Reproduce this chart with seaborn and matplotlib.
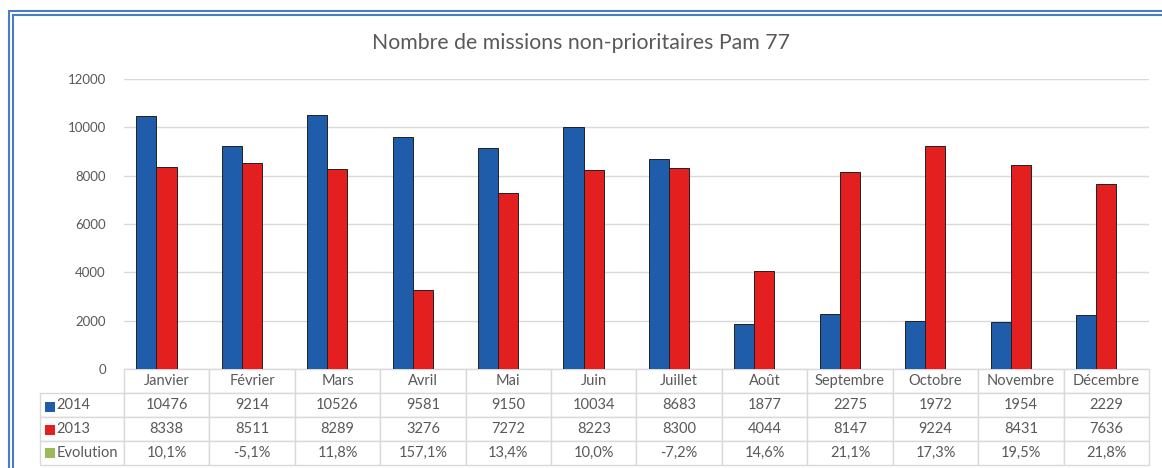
import matplotlib

matplotlib.use("Agg")
import matplotlib.pyplot as plt
from matplotlib.patches import Rectangle
import pandas as pd
import seaborn as sns

# donnees
MOIS = ["Janvier", "Février", "Mars", "Avril", "Mai", "Juin", "Juillet",
        "Août", "Septembre", "Octobre", "Novembre", "Décembre"]
V2014 = [10476, 9214, 10526, 9581, 9150, 10034, 8683, 1877, 2275, 1972, 1954, 2229]
V2013 = [8338, 8511, 8289, 3276, 7272, 8223, 8300, 4044, 8147, 9224, 8431, 7636]
EVOLUTION = ["10,1%", "-5,1%", "11,8%", "157,1%", "13,4%", "10,0%", "-7,2%",
             "14,6%", "21,1%", "17,3%", "19,5%", "21,8%"]
SERIES = ["2014", "2013"]
Y_TICKS = [0, 2000, 4000, 6000, 8000, 10000, 12000]

BLEU = "#1F5DAB"
ROUGE = "#E3201F"
VERT = "#9BBB59"
GRIS = "#595959"
TRAIT = "#D9D9D9"

sns.set_theme(style="white")
plt.rcParams["font.family"] = ["Lato", "DejaVu Sans"]

df = pd.DataFrame({
    "mois": MOIS * 2,
    "serie": [SERIES[0]] * len(MOIS) + [SERIES[1]] * len(MOIS),
    "valeur": V2014 + V2013,
})

W, H = 1162, 468
fig = plt.figure(figsize=(W / 100, H / 100), dpi=100)
ax = fig.add_axes([124 / W, 1 - 369 / H, 1025 / W, 290 / H])

sns.barplot(data=df, x="mois", y="valeur", hue="serie", order=MOIS,
            hue_order=SERIES, palette=[BLEU, ROUGE], width=0.47,
            saturation=1, edgecolor="#202020", linewidth=0.7,
            legend=False, ax=ax)

# paires decalees vers la gauche comme dans Excel (effet 3D)
ax.set_xlim(-0.38, 11.62)
ax.set_ylim(0, 12000)
ax.set_yticks(Y_TICKS)
ax.set_yticklabels([str(t) for t in Y_TICKS], color=GRIS, fontsize=9.5)
ax.tick_params(axis="y", length=0, pad=13)
ax.set_xticks([])
ax.set_xlabel("")
ax.set_ylabel("")
ax.yaxis.grid(True, color=TRAIT, lw=1)
ax.set_axisbelow(True)
for s in ax.spines.values():
    s.set_visible(False)

# tableau de donnees sous le graphique (1re colonne = etiquettes)
etiquettes = SERIES + ["Evolution"]
lignes = [[etiquettes[0]] + [str(v) for v in V2014],
          [etiquettes[1]] + [str(v) for v in V2013],
          [etiquettes[2]] + EVOLUTION]
larg_etiq = 84 / 1025
haut_tab = 96 / 290
tab = ax.table(cellText=lignes, colLabels=[""] + MOIS, cellLoc="center",
               colWidths=[larg_etiq] + [1 / 12] * 12,
               bbox=[-larg_etiq, -haut_tab, 1 + larg_etiq, haut_tab])
tab.auto_set_font_size(False)
tab.set_fontsize(10.5)
for (r, c), cell in tab.get_celld().items():
    cell.set_edgecolor(TRAIT)
    cell.set_linewidth(1)
    cell.get_text().set_color(GRIS)
    if c == 0:
        cell._loc = "left"
        cell.get_text().set_ha("left")
        cell.PAD = 0.2
        if r == 0:
            cell.visible_edges = ""

# petits carres de legende
for i, coul in enumerate([BLEU, ROUGE, VERT]):
    yc = (369 - (407 + 23 * i)) / 290
    ax.add_patch(Rectangle((-79 / 1025, yc - 5 / 290), 10 / 1025, 10 / 290,
                           transform=ax.transAxes, clip_on=False,
                           facecolor=coul, edgecolor="none"))

fig.text(581 / W, 1 - 43 / H, "Nombre de missions non-prioritaires Pam 77",
         ha="center", va="center", color=GRIS, fontsize=15.3)

# double cadre bleu
for x0, y0 in [(8.5, 11), (12.5, 15)]:
    fig.add_artist(Rectangle((x0 / W, -0.2), 1.2, 1 - y0 / H + 0.2,
                             transform=fig.transFigure, fill=False,
                             edgecolor="#4A7EC4", lw=1.5))

fig.savefig("out.png", dpi=100)
